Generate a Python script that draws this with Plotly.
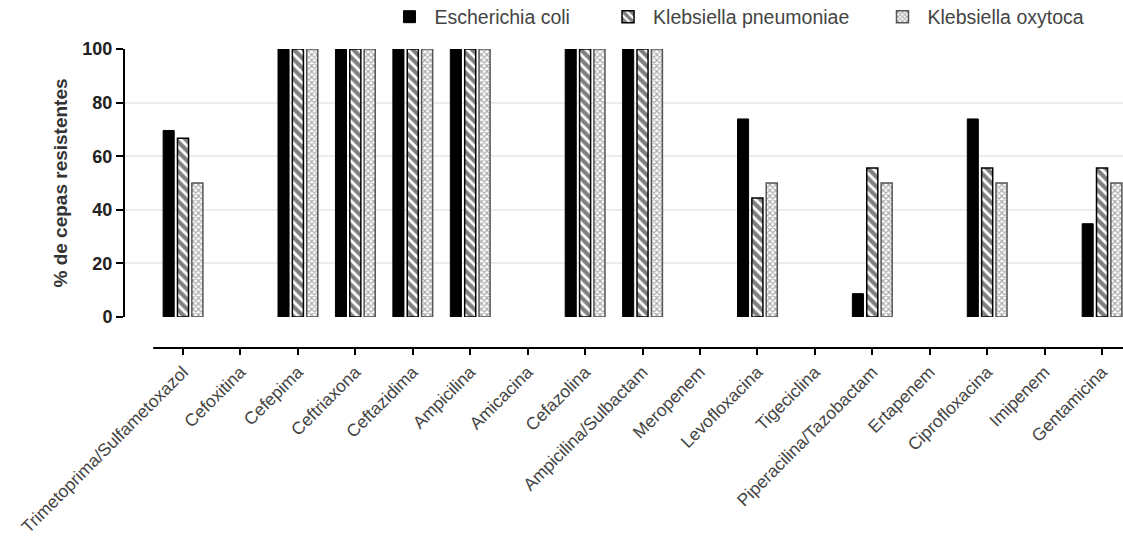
import plotly.graph_objects as go

categories = [
    "Trimetoprima/Sulfametoxazol", "Cefoxitina", "Cefepima", "Ceftriaxona",
    "Ceftazidima", "Ampicilina", "Amicacina", "Cefazolina",
    "Ampicilina/Sulbactam", "Meropenem", "Levofloxacina", "Tigeciclina",
    "Piperacilina/Tazobactam", "Ertapenem", "Ciprofloxacina", "Imipenem",
    "Gentamicina",
]
e_coli = [69.6, 0, 100, 100, 100, 100, 0, 100, 100, 0, 73.9, 0, 8.7, 0, 73.9, 0, 34.8]
k_pneumoniae = [66.7, 0, 100, 100, 100, 100, 0, 100, 100, 0, 44.4, 0, 55.6, 0, 55.6, 0, 55.6]
k_oxytoca = [50, 0, 100, 100, 100, 100, 0, 100, 100, 0, 50, 0, 50, 0, 50, 0, 50]
series_names = ["Escherichia coli", "Klebsiella pneumoniae", "Klebsiella oxytoca"]
y_ticks = [0, 20, 40, 60, 80, 100]

idx = list(range(len(categories)))


def line_widths(values, w):
    return [w if v > 0 else 0 for v in values]


fig = go.Figure()
fig.add_trace(go.Bar(
    x=idx, y=e_coli, name=series_names[0], legend="legend", showlegend=True,
    marker=dict(color="black", line=dict(color="black", width=line_widths(e_coli, 1))),
))
fig.add_trace(go.Bar(
    x=idx, y=k_pneumoniae, name=series_names[1], legend="legend2", showlegend=True,
    marker=dict(color="white", line=dict(color="black", width=line_widths(k_pneumoniae, 1.5)),
                pattern=dict(shape="\\", fgcolor="black", bgcolor="white",
                             size=7, solidity=0.6)),
))
fig.add_trace(go.Bar(
    x=idx, y=k_oxytoca, name=series_names[2], legend="legend3", showlegend=True,
    marker=dict(color="white", line=dict(color="#555555", width=line_widths(k_oxytoca, 1.5)),
                pattern=dict(shape="x", fgcolor="#555555", bgcolor="white",
                             size=4, solidity=0.5)),
))

legend_style = dict(orientation="h", y=1.107, yanchor="middle", xanchor="left",
                    font=dict(size=19.5, color="#444444"), bgcolor="rgba(0,0,0,0)",
                    itemwidth=40)

x_right = 16.365
fig.update_layout(
    width=1123, height=540,
    margin=dict(l=125, r=0, t=49, b=192, autoexpand=False),
    showlegend=True,
    paper_bgcolor="white", plot_bgcolor="white",
    barmode="group", bargap=0.25, bargroupgap=0.23,
    font=dict(family="Liberation Sans, Arial, sans-serif", color="#333333"),
    legend=dict(x=0.26, **legend_style),
    legend2=dict(x=0.479, **legend_style),
    legend3=dict(x=0.754, **legend_style),
    xaxis=dict(
        range=[-1.01, x_right], tickmode="array", tickvals=idx, ticktext=categories,
        tickangle=-45, ticks="outside", ticklen=6, tickwidth=2, tickcolor="black",
        showline=False, showgrid=False, zeroline=False, automargin=False,
        anchor="free", position=0,
        tickfont=dict(size=17.5, color="#444444"),
    ),
    yaxis=dict(
        domain=[0.1037, 1], range=[0, 100], tickvals=y_ticks,
        ticks="outside", ticklen=7, tickwidth=2, tickcolor="black",
        showline=True, linewidth=2, linecolor="black", automargin=False,
        showgrid=True, gridcolor="#ececec", gridwidth=2, zeroline=False,
        tickfont=dict(size=18, color="#222222", family="Liberation Sans, Arial, sans-serif", weight="bold"),
        title=dict(text="<b>% de cepas resistentes</b>", font=dict(size=19, color="#333333"), standoff=10),
    ),
    shapes=[dict(type="line", xref="x", yref="paper", x0=-0.52, x1=x_right, y0=0, y1=0,
                 line=dict(color="black", width=2))],
)

fig.write_html(
    "out.html",
    config={"displayModeBar": False},
    post_script="document.body.style.margin='0';document.body.style.overflow='hidden';",
)
